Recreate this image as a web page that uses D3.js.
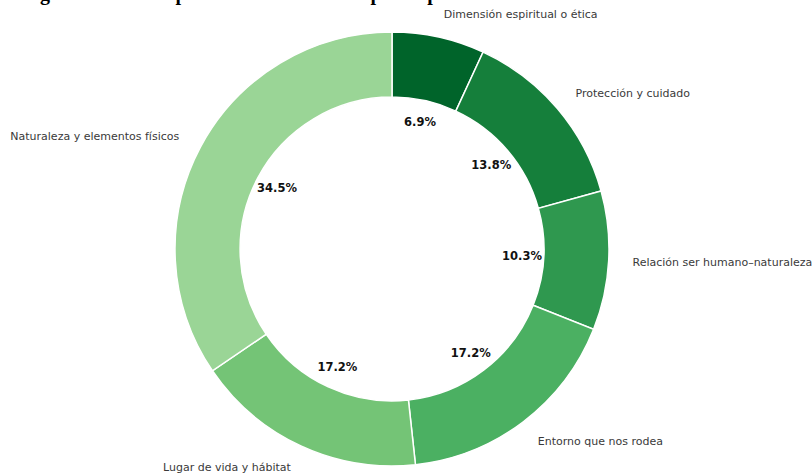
<!DOCTYPE html>
<html>
<head>
<meta charset="utf-8">
<script src="https://cdn.jsdelivr.net/npm/d3@7"></script>
<style>
  html, body { margin: 0; padding: 0; background: #ffffff; }
  svg { display: block; }
</style>
</head>
<body>
<svg id="chart" width="812" height="473"></svg>
<script>
const titleText = "Categorías del concepto de ambiente en los participantes";
const categories = [
  "Dimensión espiritual o ética",
  "Protección y cuidado",
  "Relación ser humano–naturaleza",
  "Entorno que nos rodea",
  "Lugar de vida y hábitat",
  "Naturaleza y elementos físicos"
];
const counts = [2, 4, 3, 5, 5, 10];
const colors = ["#00642a", "#157f3b", "#2f984f", "#4bb062", "#74c476", "#9ad596"];

const W = 812, H = 473;
const cx = 392, cy = 249;
const R = 217, r = R * 0.7;

const svg = d3.select("#chart");

svg.append("text")
  .attr("x", 0).attr("y", 0)
  .attr("font-family", "Liberation Serif, Times New Roman, serif")
  .attr("font-weight", "bold")
  .attr("font-size", 20)
  .attr("fill", "#000")
  .text(titleText);

const total = d3.sum(counts);
const pie = d3.pie().sort(null).value(d => d)
  .startAngle(0).endAngle(2 * Math.PI);
const arcs = pie(counts);
const arc = d3.arc().innerRadius(r).outerRadius(R);

const g = svg.append("g").attr("transform", `translate(${cx},${cy})`);

g.selectAll("path.slice")
  .data(arcs)
  .join("path")
  .attr("class", "slice")
  .attr("d", arc)
  .attr("fill", (d, i) => colors[i])
  .attr("stroke", "#ffffff")
  .attr("stroke-width", 1.5);

const labelR = R * 1.11;
const pctR = R * 0.6;

g.selectAll("text.cat")
  .data(arcs)
  .join("text")
  .attr("class", "cat")
  .attr("x", d => labelR * Math.sin((d.startAngle + d.endAngle) / 2))
  .attr("y", d => -labelR * Math.cos((d.startAngle + d.endAngle) / 2))
  .attr("dy", "0.35em")
  .attr("text-anchor", d => Math.sin((d.startAngle + d.endAngle) / 2) >= 0 ? "start" : "end")
  .attr("font-family", "DejaVu Sans, sans-serif")
  .attr("font-size", 11)
  .attr("fill", "#3a3a3a")
  .text((d, i) => categories[i]);

const fmt = d3.format(".1f");
g.selectAll("text.pct")
  .data(arcs)
  .join("text")
  .attr("class", "pct")
  .attr("x", d => pctR * Math.sin((d.startAngle + d.endAngle) / 2))
  .attr("y", d => -pctR * Math.cos((d.startAngle + d.endAngle) / 2))
  .attr("dy", "0.35em")
  .attr("text-anchor", "middle")
  .attr("font-family", "DejaVu Sans, sans-serif")
  .attr("font-weight", "bold")
  .attr("font-size", 11.5)
  .attr("fill", "#111")
  .text(d => fmt(d.value / total * 100) + "%");
</script>
</body>
</html>
